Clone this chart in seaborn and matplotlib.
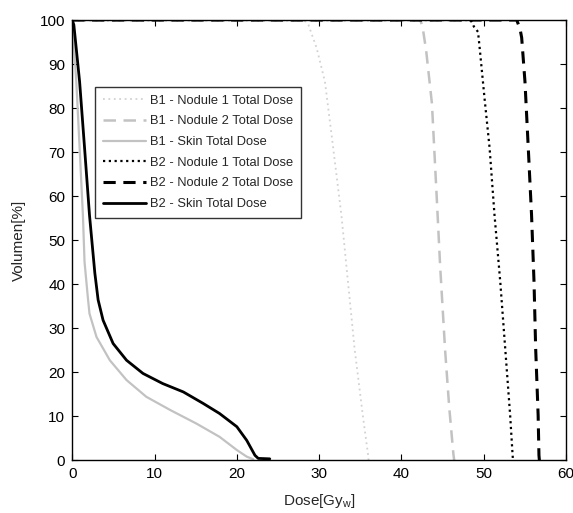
import matplotlib
matplotlib.use("Agg")
import matplotlib.pyplot as plt
import seaborn as sns
import pandas as pd

# ---- data ----
b1_nod1_dose = [0, 28.2, 28.7, 29.7, 30.7, 31.7, 32.7, 33.5, 34.3, 35.3, 35.95, 36.0]
b1_nod1_vol  = [100, 100, 98.9, 93.6, 86, 71, 55.7, 40.5, 25.4, 10.2, 1.1, 0]

b1_nod2_dose = [0, 42.3, 42.6, 43.0, 43.7, 44.3, 44.7, 45.3, 45.8, 46.3, 46.4]
b1_nod2_vol  = [100, 100, 98, 93, 81, 59, 44, 25, 12, 1.5, 0]

b1_skin_dose = [0, 0.1, 0.5, 0.9, 1.3, 1.5, 1.9, 2.1, 2.95, 4.57, 6.6, 9.0, 11.9, 15.1, 17.9, 20.0, 21.2, 22.0]
b1_skin_vol  = [100, 97.3, 86, 71, 55.7, 45, 37, 33.3, 28, 22.7, 18.2, 14.4, 11.4, 8.3, 5.3, 2.3, 0.8, 0.2]

b2_nod1_dose = [0, 48.4, 48.8, 49.3, 49.5, 50.1, 50.7, 51.3, 52.0, 52.6, 53.2, 53.5, 53.55]
b2_nod1_vol  = [100, 100, 98.5, 97.3, 93.6, 82, 71, 55.7, 40.5, 25.4, 10.2, 1.1, 0]

b2_nod2_dose = [0, 54.0, 54.4, 54.6, 55.0, 55.4, 55.8, 56.1, 56.3, 56.6, 56.7, 56.75]
b2_nod2_vol  = [100, 100, 98, 96, 86, 71, 55.7, 40.5, 25.4, 10.2, 1.1, 0]

b2_skin_dose = [0, 0.2, 0.9, 1.5, 2.1, 2.75, 3.15, 3.75, 4.97, 6.6, 8.6, 11.0, 13.5, 15.9, 17.9, 20.0, 21.2, 22.2, 22.6, 24.0]
b2_skin_vol  = [100, 98.9, 86, 71, 55.7, 42.5, 36.4, 31.8, 26.5, 22.7, 19.7, 17.4, 15.5, 12.9, 10.6, 7.6, 4.5, 1.1, 0.4, 0.3]

labels = ["B1 - Nodule 1 Total Dose", "B1 - Nodule 2 Total Dose", "B1 - Skin Total Dose",
          "B2 - Nodule 1 Total Dose", "B2 - Nodule 2 Total Dose", "B2 - Skin Total Dose"]
x_ticks = [0, 10, 20, 30, 40, 50, 60]
y_ticks = [0, 10, 20, 30, 40, 50, 60, 70, 80, 90, 100]

series = [(b1_nod1_dose, b1_nod1_vol), (b1_nod2_dose, b1_nod2_vol), (b1_skin_dose, b1_skin_vol),
          (b2_nod1_dose, b2_nod1_vol), (b2_nod2_dose, b2_nod2_vol), (b2_skin_dose, b2_skin_vol)]

styles = [
    dict(color="#d2d2d2", lw=1.3, ls=(0, (1, 2))),
    dict(color="#c2c2c2", lw=1.8, ls=(0, (5, 3))),
    dict(color="#c2c2c2", lw=1.6, ls="-"),
    dict(color="#000000", lw=1.6, ls=(0, (1, 1.6))),
    dict(color="#000000", lw=2.2, ls=(0, (4, 2.5))),
    dict(color="#000000", lw=2.0, ls="-"),
]

sns.set_style("ticks")
plt.rcParams["font.family"] = ["Liberation Sans", "DejaVu Sans"]

fig = plt.figure(figsize=(5.73, 5.13), dpi=100)
ax = fig.add_axes([0.126, 0.103, 0.862, 0.858])

for (d, v), lab, st in zip(series, labels, styles):
    df = pd.DataFrame({"dose": d, "vol": v})
    sns.lineplot(data=df, x="dose", y="vol", ax=ax, label=lab, sort=False,
                 estimator=None, color=st["color"], linewidth=st["lw"], linestyle=st["ls"])

ax.set_xlim(0, 60)
ax.set_ylim(0, 100)
ax.set_xticks(x_ticks)
ax.set_yticks(y_ticks)
ax.tick_params(direction="in", top=True, right=True, length=4, labelsize=11, width=0.8,
               colors="black", pad=5)
for s in ax.spines.values():
    s.set_linewidth(1.0)
    s.set_color("black")
ax.set_xlabel("Dose[Gy$_{\\mathregular{w}}$]", fontsize=11, labelpad=8)
ax.set_ylabel("Volumen[%]", fontsize=11, labelpad=10)

leg = ax.legend(loc="upper left", bbox_to_anchor=(0.047, 0.848), fontsize=9.3, frameon=True,
                fancybox=False, edgecolor="black", handlelength=3.3, handletextpad=0.35,
                borderpad=0.6, labelspacing=0.67, borderaxespad=0)
leg.get_frame().set_linewidth(1.0)

fig.savefig("out.png", dpi=100)
